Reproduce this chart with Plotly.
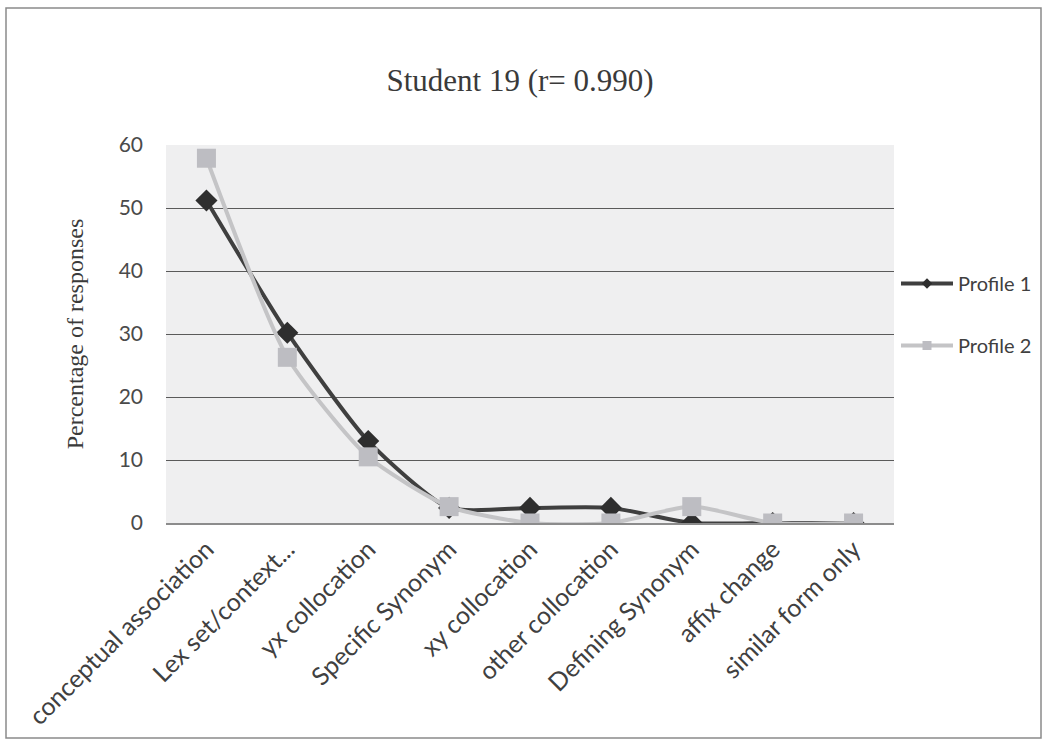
import plotly.graph_objects as go

# Response categories along the x axis
categories = [
    "conceptual association", "Lex set/context...", "yx collocation",
    "Specific Synonym", "xy collocation", "other collocation",
    "Defining Synonym", "affix change", "similar form only",
]

# Percentage of responses for each profile
profile_1 = [51.2, 30.2, 13.0, 2.4, 2.4, 2.4, 0.0, 0.0, 0.0]
profile_2 = [57.9, 26.3, 10.5, 2.6, 0.0, 0.0, 2.6, 0.0, 0.0]

y_ticks = [0, 10, 20, 30, 40, 50, 60]

W, H = 1045, 742
L, R, T, B = 166, 151, 145, 219
pw, ph = W - L - R, H - T - B

P1_LINE, P1_MARK = "#3f3f3f", "#2e2e2e"
P2_LINE, P2_MARK = "#c4c4c6", "#bdbdc2"

fig = go.Figure()
fig.add_trace(go.Scatter(
    x=categories, y=profile_1, name="Profile 1", mode="lines+markers",
    line=dict(color=P1_LINE, width=4, shape="spline", smoothing=0.6),
    marker=dict(symbol="diamond", size=17, color=P1_MARK),
    showlegend=False,
))
fig.add_trace(go.Scatter(
    x=categories, y=profile_2, name="Profile 2", mode="lines+markers",
    line=dict(color=P2_LINE, width=4, shape="spline", smoothing=0.6),
    marker=dict(symbol="square", size=19, color=P2_MARK),
    showlegend=False,
))

# legend entries with small in-line markers
fig.add_trace(go.Scatter(
    x=[None], y=[None], name="Profile 1", mode="lines+markers",
    line=dict(color=P1_LINE, width=4),
    marker=dict(symbol="diamond", size=8, color=P1_MARK),
    legendgroup="p1",
))
fig.add_trace(go.Scatter(
    x=[None], y=[None], name="Profile 2", mode="lines+markers",
    line=dict(color=P2_LINE, width=4),
    marker=dict(symbol="square", size=9, color=P2_MARK),
    legendgroup="p2",
))

# outer frame around the whole chart
def px_x(px):
    return (px - L) / pw

def px_y(py):
    return (H - B - py) / ph

fig.add_shape(type="rect", xref="paper", yref="paper",
              x0=px_x(6), x1=px_x(1041), y0=px_y(738), y1=px_y(8),
              line=dict(color="#8a8a8a", width=1.5), layer="below")

fig.update_layout(
    width=W, height=H,
    margin=dict(l=L, r=R, t=T, b=B, autoexpand=False),
    paper_bgcolor="white",
    plot_bgcolor="#efeff0",
    title=dict(
        text="Student 19 (r= 0.990)",
        font=dict(family="Liberation Serif", size=31, color="#3a3a3a"),
        x=520 / W, xanchor="center",
        y=1 - 80 / H, yanchor="middle",
    ),
    legend=dict(
        x=px_x(896), y=px_y(264), xanchor="left", yanchor="top",
        font=dict(family="Lato", size=20, color="#404040"),
        bgcolor="rgba(0,0,0,0)",
        traceorder="grouped", tracegroupgap=33,
        itemwidth=52,
    ),
    xaxis=dict(
        tickangle=-45,
        tickfont=dict(family="Lato", size=25, color="#404040"),
        showgrid=False, showline=True, linecolor="#8c8c8c", linewidth=1.5,
        ticks="", range=[-0.5, 8.5],
    ),
    yaxis=dict(
        range=[0, 60], tickvals=y_ticks,
        tickfont=dict(family="Lato", size=21, color="#4a4a4a"),
        showgrid=True, gridcolor="#5a5a5a", gridwidth=1,
        zeroline=False, showline=False, ticks="", ticklabelstandoff=22,
        title=dict(text="Percentage of responses",
                   font=dict(family="Liberation Serif", size=24, color="#3a3a3a"),
                   standoff=28),
    ),
)
fig.write_html("out.html")
